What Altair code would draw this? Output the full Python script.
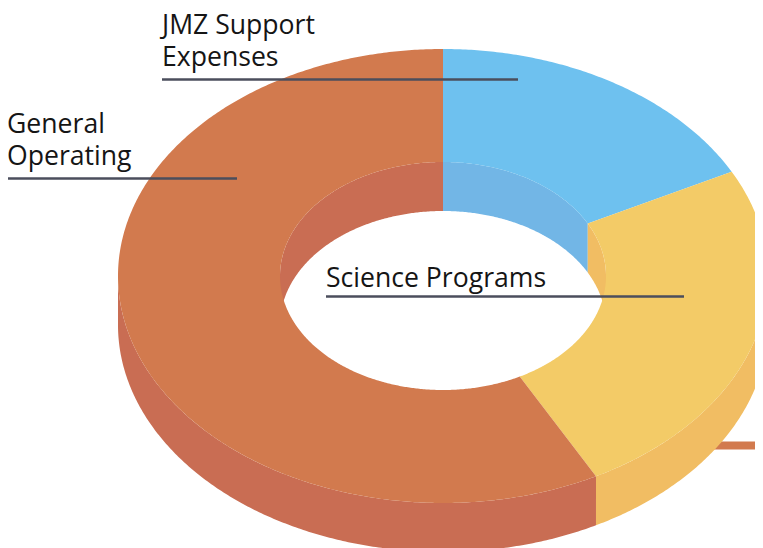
import math
import altair as alt

names = ["JMZ Support Expenses", "Science Programs", "General Operating"]
shares = [17.4, 24.8, 57.8]
top_colors = ["#6ec1ef", "#f3cb67", "#d27a4e"]
side_colors = ["#72b6e6", "#f1bd63", "#c96d53"]

# Ring geometry, in page pixels relative to the plot origin
OX, OY = 8, 8
CX, CY = 443 - OX, 276 - OY
RX, RY = 325, 227
IX, IY = 163, 114
DEPTH = 49
W, H = 747, 540


def pt(a, rx, ry, dy=0):
    t = math.radians(a)
    return [CX + rx * math.sin(t), CY - ry * math.cos(t) + dy]


def sweep(a0, a1, rx, ry, dy=0):
    n = max(2, int(abs(a1 - a0) * 2))
    return [pt(a0 + (a1 - a0) * i / n, rx, ry, dy) for i in range(n + 1)]


def feature(ring, color, kind):
    ring = ring + [ring[0]]
    return {
        "type": "Feature",
        "geometry": {"type": "Polygon", "coordinates": [ring]},
        "properties": {"color": color, "kind": kind},
    }


def band(a0, a1, rx, ry, dy0, dy1):
    return sweep(a0, a1, rx, ry, dy0) + sweep(a1, a0, rx, ry, dy1)


walls, tops = [], []
start = 0.0
for share, top, side in zip(shares, top_colors, side_colors):
    end = start + share * 3.6
    # outer wall: the front half of the ring (90..270 degrees)
    a0, a1 = max(start, 90), min(end, 270)
    if a1 > a0:
        walls.append(feature(band(a0, a1, RX, RY, 0, DEPTH), side, "outer"))
    # inner wall: the back half of the hole (270..450 degrees)
    for lo, hi in ((start, min(end, 90)), (max(start, 270), end)):
        if hi > lo:
            walls.append(feature(band(lo, hi, IX, IY, 0, DEPTH), side, "inner"))
    ring = sweep(start, end, RX, RY) + sweep(end, start, IX, IY)
    tops.append(feature(ring, top, "top"))
    start = end

features = walls + tops

shapes = (
    alt.Chart(alt.Data(values=features))
    .mark_geoshape(clip=True, strokeWidth=0)
    .encode(fill=alt.Fill("properties.color:N", scale=None), stroke=alt.value(None))
    .project(type="identity", scale=1, translate=[0, 0])
)


def line(x0, x1, y, color="#4b4e5c", size=2.6):
    return (
        alt.Chart(alt.Data(values=[{"n": 0}]))
        .mark_rule(color=color, strokeWidth=size, clip=True)
        .encode(x=alt.value(x0 - OX), x2=alt.value(x1 - OX), y=alt.value(y - OY))
    )


def label(text, x, y):
    return (
        alt.Chart(alt.Data(values=[{"t": text}]))
        .mark_text(
            font="Open Sans", fontSize=26.6, color="#151515", align="left",
            baseline="alphabetic", lineBreak="\n", lineHeight=32,
        )
        .encode(text="t:N", x=alt.value(x - OX), y=alt.value(y - OY))
    )


stub = line(700, 763, 445.5, "#d27a4e", 8)

chart = alt.layer(
    stub,
    shapes,
    line(162, 518, 79.5),
    line(7, 237, 178.5),
    line(326, 684, 296.5),
    label("JMZ Support\nExpenses", 162, 34),
    label("General\nOperating", 7, 133),
    label("Science Programs", 326, 287),
).properties(
    width=W,
    height=H,
    padding=0,
    autosize=alt.AutoSizeParams(type="none"),
).configure_view(stroke=None)

chart.save("out.html", embed_options={"renderer": "svg", "actions": False})
